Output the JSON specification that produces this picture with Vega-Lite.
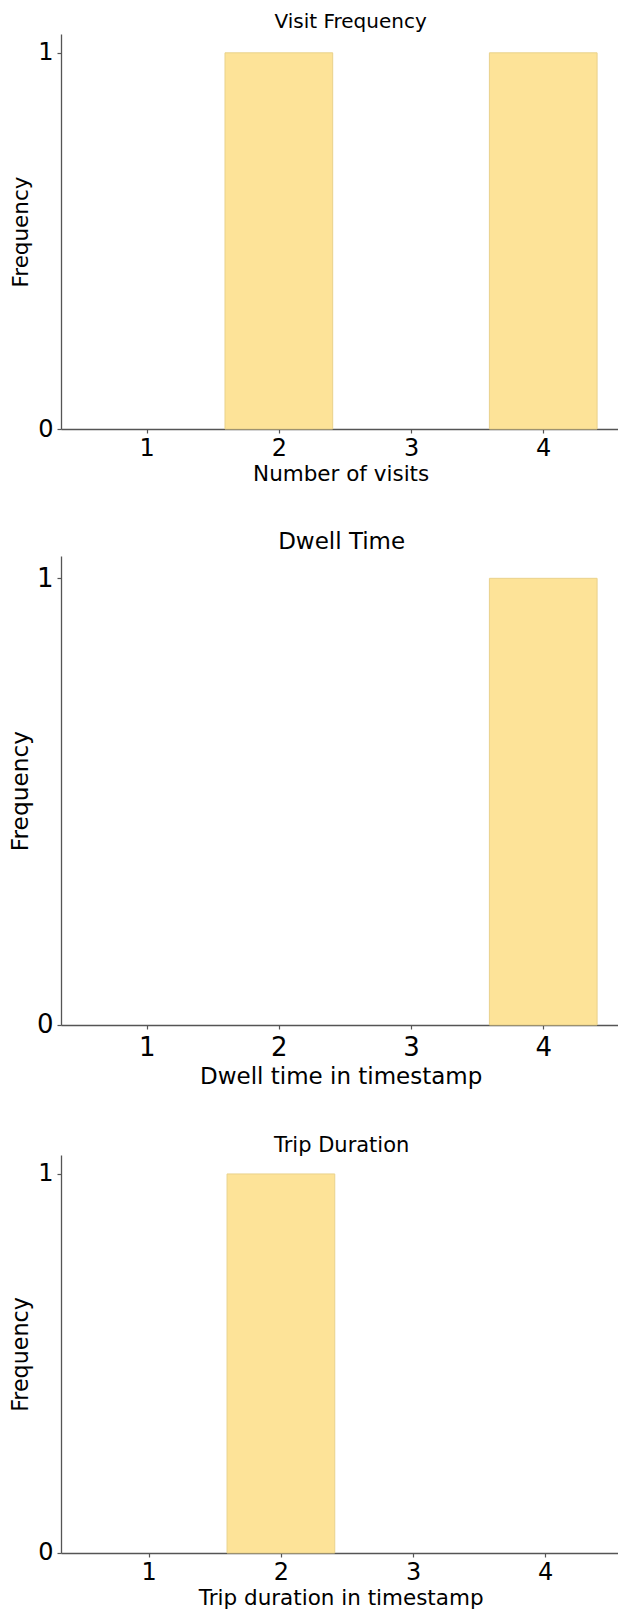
{
  "$schema": "https://vega.github.io/schema/vega-lite/v6.json",
  "background": "white",
  "padding": {"left": 8, "top": 12, "right": 0, "bottom": 0},
  "spacing": 46,
  "config": {
    "font": "DejaVu Sans",
    "view": {"stroke": null},
    "axis": {
      "grid": false,
      "domainColor": "#555555",
      "domainWidth": 1.3,
      "tickColor": "#555555",
      "tickWidth": 1.2,
      "tickSize": 4,
      "labelFont": "DejaVu Sans",
      "labelFontSize": 24,
      "labelColor": "#000000",
      "labelPadding": 4,
      "titleFont": "DejaVu Sans",
      "titleFontSize": 21.5,
      "titleFontWeight": "normal",
      "titleColor": "#000000"
    },
    "axisX": {"titlePadding": 3, "labelPadding": 3.5},
    "axisY": {"titlePadding": 5},
    "title": {"font": "DejaVu Sans", "fontSize": 21, "fontWeight": "normal", "color": "#000000", "anchor": "middle", "offset": 2}
  },
  "data": {
    "values": [
      {"chart": "visits", "value": 1, "count": 0},
      {"chart": "visits", "value": 2, "count": 1},
      {"chart": "visits", "value": 3, "count": 0},
      {"chart": "visits", "value": 4, "count": 1},
      {"chart": "dwell", "value": 1, "count": 0},
      {"chart": "dwell", "value": 2, "count": 0},
      {"chart": "dwell", "value": 3, "count": 0},
      {"chart": "dwell", "value": 4, "count": 1},
      {"chart": "trip", "value": 1, "count": 0},
      {"chart": "trip", "value": 2, "count": 1},
      {"chart": "trip", "value": 3, "count": 0},
      {"chart": "trip", "value": 4, "count": 0}
    ]
  },
  "vconcat": [
    {
      "title": {"text": "Visit Frequency", "fontSize": 20, "dx": 10},
      "width": 559.3,
      "height": 395,
      "transform": [{"filter": "datum.chart == 'visits' && datum.count > 0"}],
      "mark": {"type": "bar", "width": 107.7, "fill": "#FDE398", "stroke": "#E9D28C", "strokeWidth": 1},
      "encoding": {
        "x": {"field": "value", "type": "quantitative", "scale": {"domain": [0.39, 4.545], "nice": false, "zero": false}, "axis": {"values": [1, 2, 3, 4], "format": "d", "title": "Number of visits"}},
        "y": {"field": "count", "type": "quantitative", "scale": {"domain": [0, 1.05], "nice": false}, "axis": {"values": [0, 1], "format": "d", "title": "Frequency"}}
      }
    },
    {
      "title": {"text": "Dwell Time", "fontSize": 23, "dx": 1},
      "width": 559.3,
      "height": 469,
      "transform": [{"filter": "datum.chart == 'dwell' && datum.count > 0"}],
      "mark": {"type": "bar", "width": 107.7, "fill": "#FDE398", "stroke": "#E9D28C", "strokeWidth": 1},
      "encoding": {
        "x": {"field": "value", "type": "quantitative", "scale": {"domain": [0.39, 4.545], "nice": false, "zero": false}, "axis": {"values": [1, 2, 3, 4], "format": "d", "title": "Dwell time in timestamp", "titleFontSize": 23, "labelFontSize": 26, "labelPadding": 6, "titlePadding": 5}},
        "y": {"field": "count", "type": "quantitative", "scale": {"domain": [0, 1.05], "nice": false}, "axis": {"values": [0, 1], "format": "d", "title": "Frequency", "titleFontSize": 23.3, "labelFontSize": 26, "titlePadding": 4}}
      }
    },
    {
      "title": {"text": "Trip Duration", "fontSize": 21, "dx": 1, "offset": -1},
      "width": 559.3,
      "height": 398,
      "transform": [{"filter": "datum.chart == 'trip' && datum.count > 0"}],
      "mark": {"type": "bar", "width": 107.7, "fill": "#FDE398", "stroke": "#E9D28C", "strokeWidth": 1},
      "encoding": {
        "x": {"field": "value", "type": "quantitative", "scale": {"domain": [0.374, 4.53], "nice": false, "zero": false}, "axis": {"values": [1, 2, 3, 4], "format": "d", "title": "Trip duration in timestamp"}},
        "y": {"field": "count", "type": "quantitative", "scale": {"domain": [0, 1.05], "nice": false}, "axis": {"values": [0, 1], "format": "d", "title": "Frequency", "titleFontSize": 22.2}}
      }
    }
  ]
}
